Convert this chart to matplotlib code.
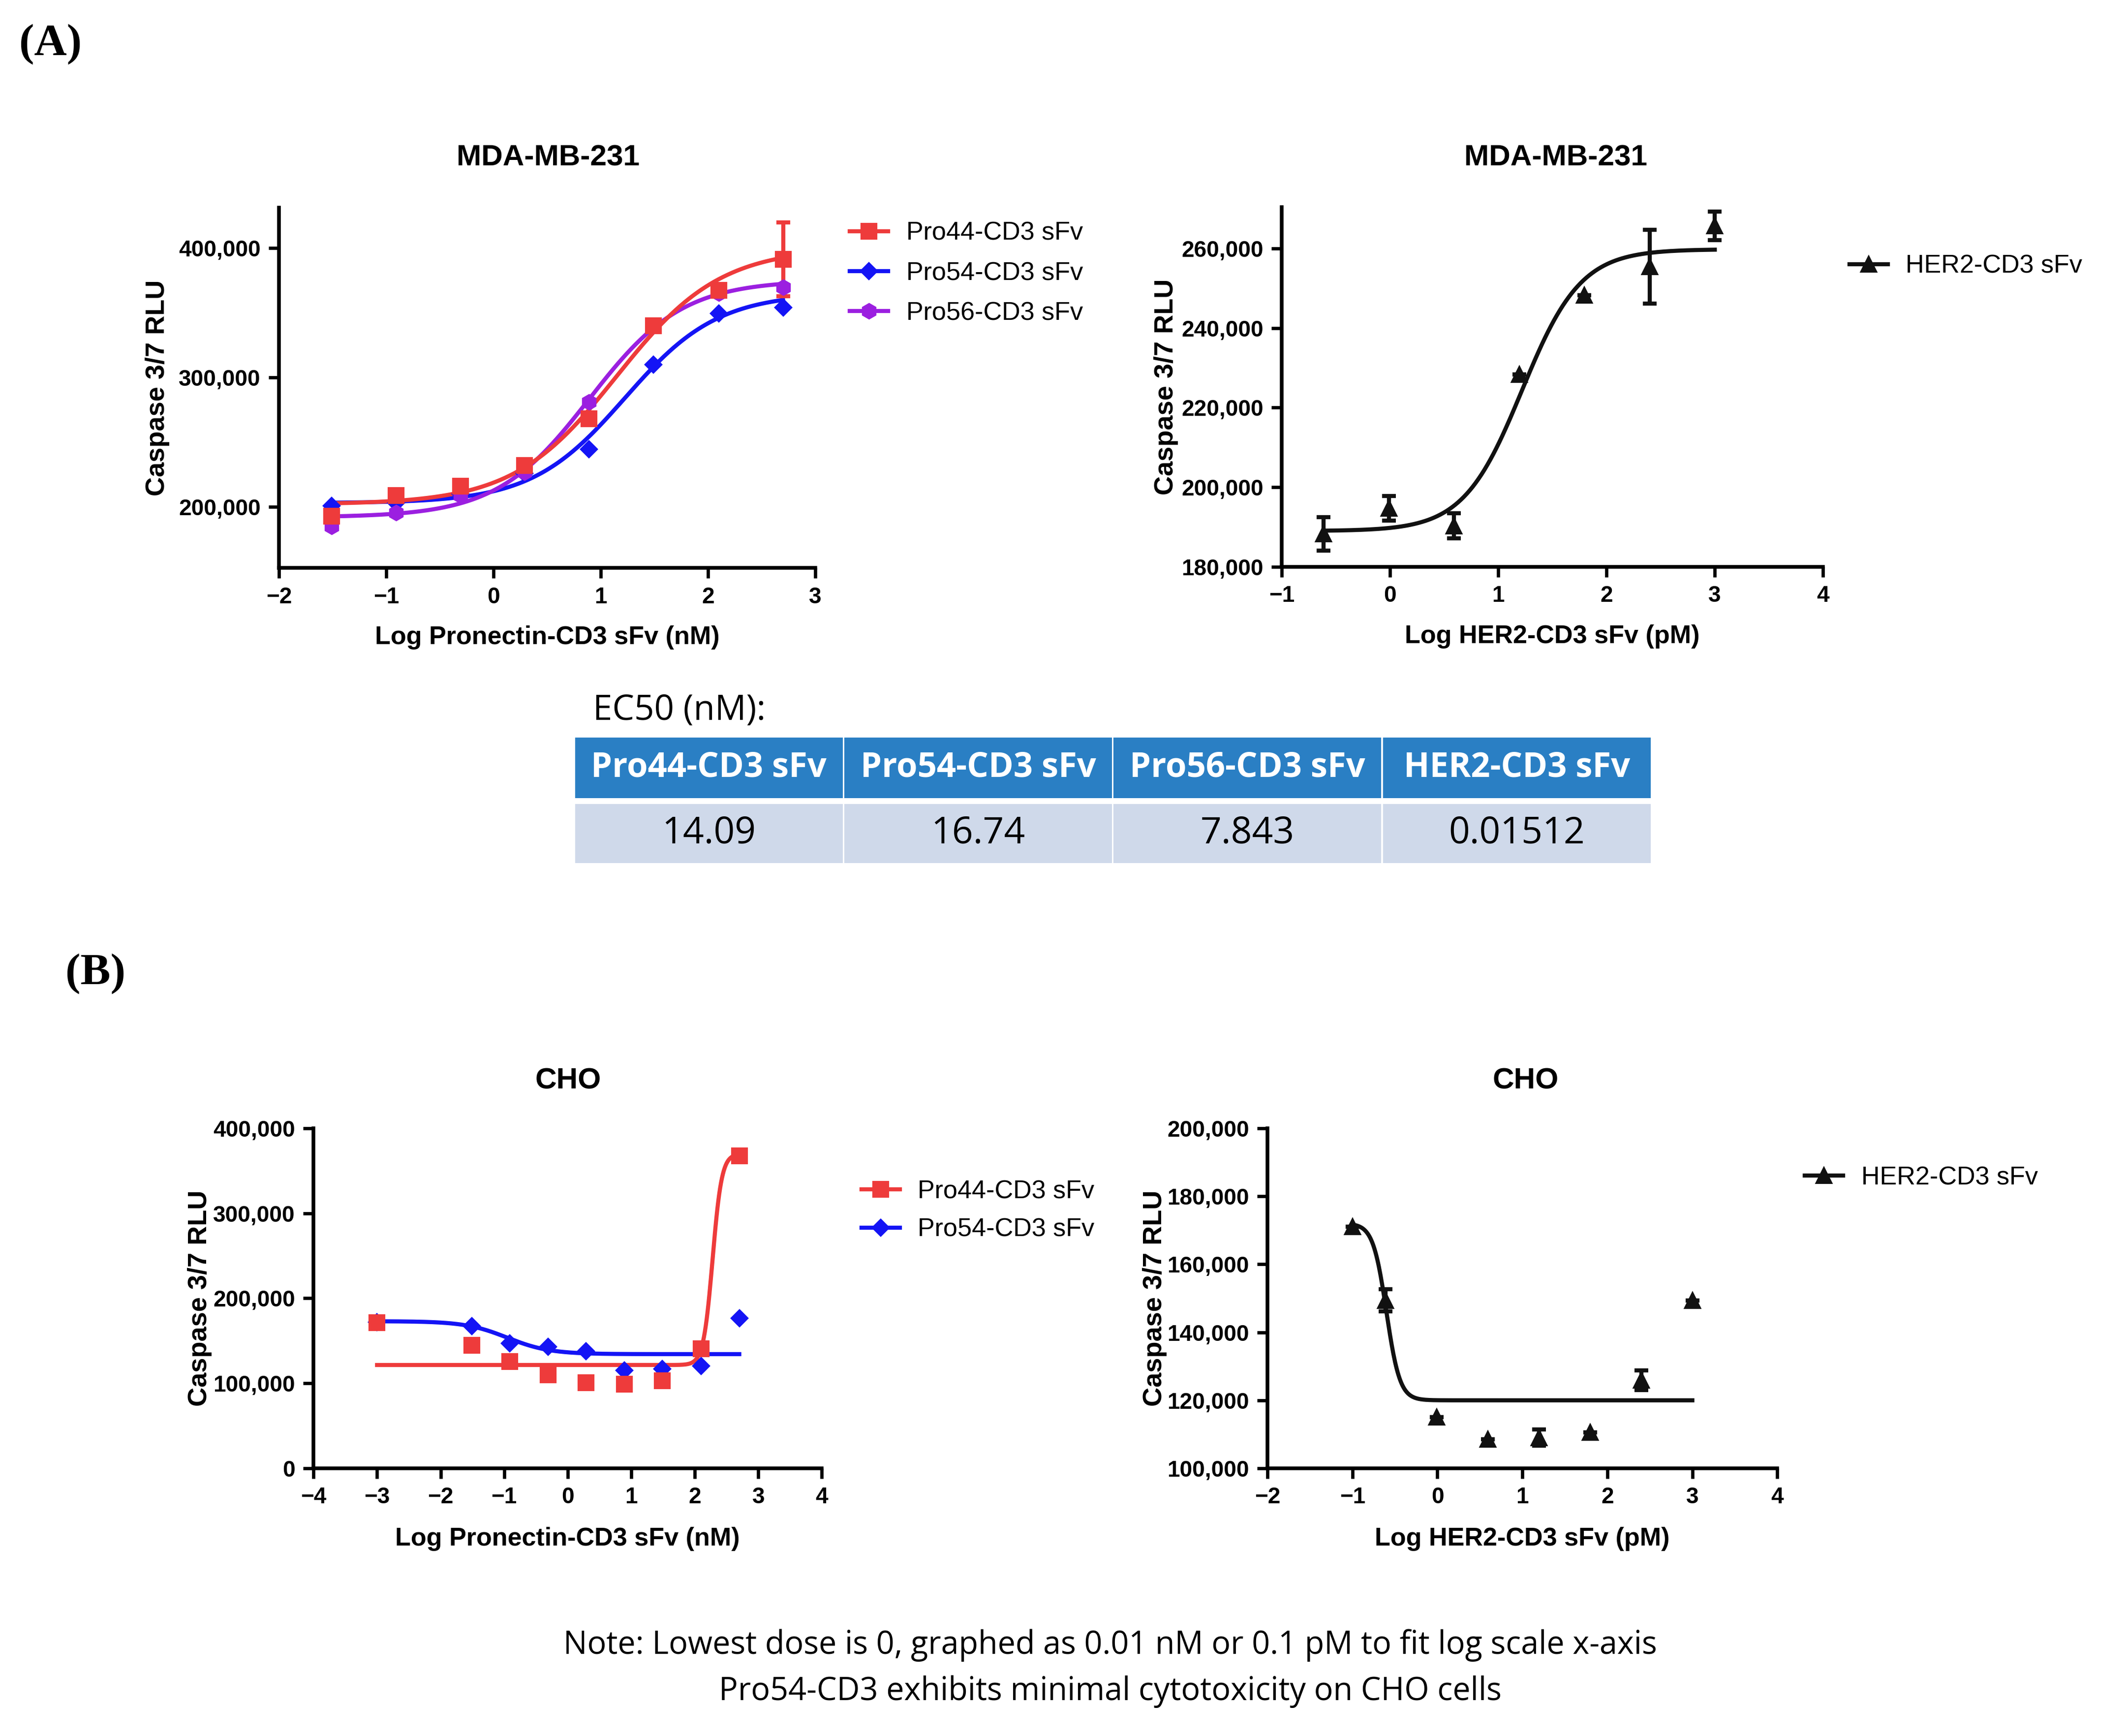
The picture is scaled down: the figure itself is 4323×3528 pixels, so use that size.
import numpy as np
import matplotlib
matplotlib.use('Agg')
import matplotlib.pyplot as plt
from matplotlib.lines import Line2D
from matplotlib.patches import Rectangle

plt.rcParams['font.family'] = ['Liberation Sans', 'DejaVu Sans']

# ---- data ----
# (A) MDA-MB-231, Pronectin constructs (x = log nM)
a_log_nm = [-1.51, -0.91, -0.31, 0.29, 0.89, 1.49, 2.10, 2.70]
a_pro44 = [193000, 209000, 216000, 232000, 268000, 340000, 367000, 391000]
a_pro44_err = [0, 0, 0, 0, 0, 0, 0, 28500]
a_pro54 = [201000, 203000, 210000, 226000, 244500, 310000, 349500, 354000]
a_pro56 = [185000, 195500, 209000, 226500, 281000, 340000, 365000, 369500]

# (A) MDA-MB-231, HER2 (x = log pM)
a_her2_log_pm = [-0.613, -0.011, 0.591, 1.194, 1.796, 2.398, 3.0]
a_her2 = [188300, 194700, 190300, 228300, 248200, 255400, 265700]
a_her2_err = [4200, 3100, 3200, 0, 0, 9300, 3600]

# (B) CHO
b_log_nm = [-3.0, -1.51, -0.91, -0.31, 0.29, 0.89, 1.49, 2.10, 2.70]
b_pro44 = [171400, 144900, 125700, 110200, 100800, 98800, 102900, 140800, 367300]
b_pro54 = [172000, 167300, 146900, 142900, 138000, 115100, 117100, 120400, 176300]

b_her2_log_pm = [-1.0, -0.613, -0.011, 0.591, 1.194, 1.796, 2.398, 3.0]
b_her2 = [171100, 149400, 115100, 108500, 109000, 110500, 125900, 149400]
b_her2_err = [0, 3200, 0, 0, 2400, 0, 2900, 0]

# 4PL fits: bottom, top, logEC50, hill
fit_a_pro44 = [202000, 400000, 1.149, 0.9]
fit_a_pro54 = [203000, 365000, 1.224, 1.0]
fit_a_pro56 = [192000, 375000, 0.894, 1.0]
fit_a_her2 = [189000, 259800, 1.22, 1.6]
fit_b_pro44 = [121500, 370000, 2.28, 6.0]
fit_b_pro54 = [134300, 173000, -0.95, -1.3]
fit_b_her2 = [120000, 172000, -0.6, -5.5]

# EC50 table
tab_headers = ['Pro44-CD3 sFv', 'Pro54-CD3 sFv', 'Pro56-CD3 sFv', 'HER2-CD3 sFv']
tab_values = ['14.09', '16.74', '7.843', '0.01512']

RED = '#EE3B3B'
BLUE = '#1414F5'
PURPLE = '#9B1FE0'
BLACK = '#111111'


def four_pl(x, p):
    bottom, top, c, h = p
    return bottom + (top - bottom) / (1 + 10 ** ((c - x) * h))


def style_axes(ax, xticks, yticks, xlim, ylim):
    ax.set_xlim(xlim)
    ax.set_ylim(ylim)
    ax.set_xticks(xticks)
    ax.set_yticks(yticks)
    ax.set_yticklabels(['{:,}'.format(v) for v in yticks])
    for s in ['top', 'right']:
        ax.spines[s].set_visible(False)
    for s in ['left', 'bottom']:
        ax.spines[s].set_linewidth(1.8)
    ax.tick_params(axis='both', direction='out', width=1.6, length=5,
                   labelsize=11, pad=4)
    for lab in ax.get_xticklabels() + ax.get_yticklabels():
        lab.set_fontweight('bold')


def draw_curve(ax, x, p, color):
    xs = np.linspace(min(x), max(x), 400)
    ax.plot(xs, four_pl(xs, p), color=color, lw=2.0, zorder=2)


def draw_points(ax, x, y, err, color, marker, ms):
    if err is not None:
        ax.errorbar(x, y, yerr=err, fmt='none', ecolor=color, elinewidth=2.0,
                    capsize=3.3, capthick=2.0, zorder=3)
    ax.plot(x, y, ls='none', marker=marker, ms=ms, color=color,
            mec=color, zorder=4)


def label_axes(ax, title_xy, title, xlabel, ylab_x, xlab_y):
    ax.set_ylabel('Caspase 3/7 RLU', fontsize=13, fontweight='bold')
    ax.yaxis.set_label_coords(ylab_x, 0.5)
    ax.set_xlabel(xlabel, fontsize=12.5, fontweight='bold')
    ax.xaxis.set_label_coords(0.5, xlab_y)
    fig.text(title_xy[0], title_xy[1], title, fontsize=14.5, fontweight='bold',
             ha='center', va='center')


def add_legend(ax, entries, anchor, spacing):
    handles = [Line2D([], [], color=c, marker=m, ms=ms, lw=2.0)
               for c, m, ms, _ in entries]
    labels = [e[3] for e in entries]
    ax.legend(handles, labels, loc='upper left', bbox_to_anchor=anchor,
              bbox_transform=fig.transFigure, frameon=False, fontsize=12.5,
              handlelength=1.5, handletextpad=0.7, borderpad=0,
              borderaxespad=0, labelspacing=spacing)


fig = plt.figure(figsize=(4323 / 300, 3528 / 300), dpi=300)

# ---- (A) left ----
ax1 = fig.add_axes([0.1312, 0.6729, 0.2521, 0.2075])
draw_curve(ax1, a_log_nm, fit_a_pro54, BLUE)
draw_curve(ax1, a_log_nm, fit_a_pro56, PURPLE)
draw_curve(ax1, a_log_nm, fit_a_pro44, RED)
draw_points(ax1, a_log_nm, a_pro54, None, BLUE, 'D', 5.5)
draw_points(ax1, a_log_nm, a_pro56, None, PURPLE, 'h', 7)
draw_points(ax1, a_log_nm, a_pro44, a_pro44_err, RED, 's', 7)
style_axes(ax1, [-2, -1, 0, 1, 2, 3], [200000, 300000, 400000], (-2, 3), (153000, 431000))
label_axes(ax1, (0.2577, 0.909), 'MDA-MB-231', 'Log Pronectin-CD3 sFv (nM)', -0.204, -0.16)
add_legend(ax1, [(RED, 's', 7, 'Pro44-CD3 sFv'), (BLUE, 'D', 5.5, 'Pro54-CD3 sFv'),
                 (PURPLE, 'h', 7, 'Pro56-CD3 sFv')], (0.3995, 0.8725), 0.62)

# ---- (A) right ----
ax2 = fig.add_axes([0.6026, 0.6735, 0.2545, 0.2072])
draw_curve(ax2, a_her2_log_pm, fit_a_her2, BLACK)
draw_points(ax2, a_her2_log_pm, a_her2, a_her2_err, BLACK, '^', 7)
style_axes(ax2, [-1, 0, 1, 2, 3, 4], [180000, 200000, 220000, 240000, 260000], (-1, 4), (180000, 270400))
label_axes(ax2, (0.7314, 0.909), 'MDA-MB-231', 'Log HER2-CD3 sFv (pM)', -0.191, -0.16)
add_legend(ax2, [(BLACK, '^', 7, 'HER2-CD3 sFv')], (0.8695, 0.8535), 0.7)

# ---- (B) left ----
ax3 = fig.add_axes([0.1474, 0.1542, 0.239, 0.1959])
draw_curve(ax3, b_log_nm, fit_b_pro54, BLUE)
draw_curve(ax3, b_log_nm, fit_b_pro44, RED)
draw_points(ax3, b_log_nm, b_pro54, None, BLUE, 'D', 5.5)
draw_points(ax3, b_log_nm, b_pro44, None, RED, 's', 7)
style_axes(ax3, [-4, -3, -2, -1, 0, 1, 2, 3, 4], [0, 100000, 200000, 300000, 400000], (-4, 4), (0, 400000))
label_axes(ax3, (0.2672, 0.3773), 'CHO', 'Log Pronectin-CD3 sFv (nM)', -0.2, -0.172)
add_legend(ax3, [(RED, 's', 7, 'Pro44-CD3 sFv'), (BLUE, 'D', 5.5, 'Pro54-CD3 sFv')],
           (0.405, 0.3205), 0.55)

# ---- (B) right ----
ax4 = fig.add_axes([0.5959, 0.1542, 0.2397, 0.1959])
draw_curve(ax4, b_her2_log_pm, fit_b_her2, BLACK)
draw_points(ax4, b_her2_log_pm, b_her2, b_her2_err, BLACK, '^', 7)
style_axes(ax4, [-2, -1, 0, 1, 2, 3, 4], [100000, 120000, 140000, 160000, 180000, 200000], (-2, 4), (100000, 200000))
label_axes(ax4, (0.7173, 0.3773), 'CHO', 'Log HER2-CD3 sFv (pM)', -0.197, -0.172)
add_legend(ax4, [(BLACK, '^', 7, 'HER2-CD3 sFv')], (0.8485, 0.3285), 0.7)

# ---- panel letters ----
fig.text(0.0238, 0.9745, '(A)', fontsize=22, fontweight='bold', family='Liberation Serif',
         ha='center', va='center')
fig.text(0.0449, 0.4393, '(B)', fontsize=22, fontweight='bold', family='Liberation Serif',
         ha='center', va='center')

# ---- EC50 table ----
fig.text(0.2787, 0.5907, 'EC50 (nM):', fontsize=17, family='Open Sans', ha='left', va='center')
tax = fig.add_axes([0.27, 0.5028, 0.5064, 0.0723])
tax.set_xlim(0, len(tab_headers))
tax.set_ylim(0, 1)
tax.axis('off')
for i, (h, v) in enumerate(zip(tab_headers, tab_values)):
    tax.add_patch(Rectangle((i + 0.003, 0.518), 0.994, 0.482, color='#2A7FC4', lw=0))
    tax.add_patch(Rectangle((i + 0.003, 0.0), 0.994, 0.47, color='#CFD9EA', lw=0))
    tax.text(i + 0.5, 0.759, h, color='white', fontsize=16.5, fontweight='bold',
             family='Open Sans', ha='center', va='center')
    tax.text(i + 0.5, 0.235, v, color='black', fontsize=18, family='Open Sans',
             ha='center', va='center')

# ---- note ----
fig.text(0.522, 0.0522, 'Note: Lowest dose is 0, graphed as 0.01 nM or 0.1 pM to fit log scale x-axis',
         fontsize=15.5, family='Open Sans', ha='center', va='center')
fig.text(0.522, 0.0255, 'Pro54-CD3 exhibits minimal cytotoxicity on CHO cells',
         fontsize=15.5, family='Open Sans', ha='center', va='center')

fig.savefig('out.png', dpi=300)
